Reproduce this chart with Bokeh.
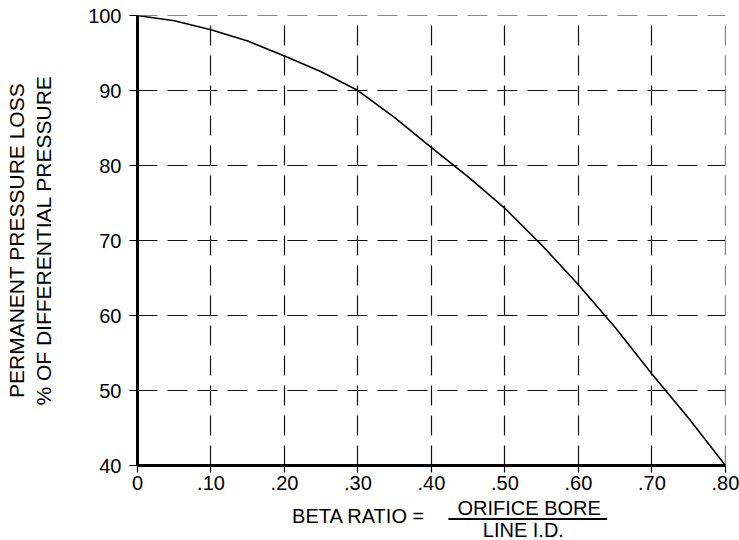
from bokeh.plotting import figure
from bokeh.layouts import column
from bokeh.models import Range1d, FixedTicker, CustomJSTickFormatter, Label, Arrow
from bokeh.embed import file_html
from bokeh.resources import INLINE

# Data
beta = [0.00, 0.05, 0.10, 0.15, 0.20, 0.25, 0.30, 0.35, 0.40,
        0.45, 0.50, 0.55, 0.60, 0.65, 0.70, 0.75, 0.80]
loss = [100.0, 99.3, 98.1, 96.6, 94.6, 92.5, 90.0, 86.4, 82.4,
        78.5, 74.3, 69.4, 64.1, 58.4, 52.2, 46.3, 40.0]
x_ticks = [0.0, 0.1, 0.2, 0.3, 0.4, 0.5, 0.6, 0.7, 0.8]
y_ticks = [40, 50, 60, 70, 80, 90, 100]

FONT = "Liberation Sans"

x_range = Range1d(0, 0.8001)
p = figure(width=739, height=497, output_backend="svg", toolbar_location=None,
           x_range=x_range, y_range=Range1d(40, 100.01),
           min_border_left=137, min_border_right=14, min_border_top=15,
           min_border_bottom=32)
p.outline_line_color = None
p.background_fill_color = "white"
p.border_fill_color = "white"

# grid
for g in (p.xgrid, p.ygrid):
    g.grid_line_color = "#111111"
    g.grid_line_dash = "20 10"
    g.grid_line_width = 1.2
p.xgrid.ticker = FixedTicker(ticks=x_ticks)
p.ygrid.ticker = FixedTicker(ticks=y_ticks)

# axes
p.xaxis.ticker = FixedTicker(ticks=x_ticks)
p.yaxis.ticker = FixedTicker(ticks=y_ticks)
p.xaxis.formatter = CustomJSTickFormatter(
    code="return tick == 0 ? '0' : tick.toFixed(2).replace(/^0/, '');")
p.xaxis.bounds = (0, 0.8)
p.yaxis.bounds = (40, 100)
for ax in (p.xaxis, p.yaxis):
    ax.axis_line_width = 3
    ax.axis_line_color = "black"
    ax.major_tick_line_color = "black"
    ax.major_tick_line_width = 1.2
    ax.major_tick_in = 0
    ax.minor_tick_line_color = None
    ax.major_label_text_font = FONT
    ax.major_label_text_font_size = "20px"
    ax.major_label_text_color = "black"
p.yaxis.major_tick_out = 8
p.xaxis.major_tick_out = 7
p.yaxis.major_label_standoff = 8
p.xaxis.major_label_standoff = 3

p.yaxis.axis_label = "PERMANENT PRESSURE LOSS\n% OF DIFFERENTIAL PRESSURE"
p.yaxis.axis_label_text_font = FONT
p.yaxis.axis_label_text_font_size = "21px"
p.yaxis.axis_label_text_font_style = "normal"
p.yaxis.axis_label_text_color = "black"
p.yaxis.axis_label_standoff = 30

# curve
p.line(beta, loss, line_color="black", line_width=1.6)

# x-axis title panel (fraction), sharing the x scale; y in page pixels
q = figure(width=739, height=43, output_backend="svg", toolbar_location=None,
           x_range=x_range, y_range=Range1d(540, 497),
           min_border_left=137, min_border_right=14, min_border_top=0,
           min_border_bottom=0, x_axis_type=None, y_axis_type=None)
q.outline_line_color = None
q.grid.visible = False
q.background_fill_color = "white"
q.border_fill_color = "white"

common = dict(text_font=FONT, text_font_size="20px", text_align="center",
              text_baseline="alphabetic", text_color="black")
q.add_layout(Label(x=0.301, y=515, text="BETA RATIO =", **common))
q.add_layout(Label(x=0.533, y=507, text="ORIFICE BORE", **common))
q.add_layout(Label(x=0.525, y=529, text="LINE I.D.", **common))
q.add_layout(Arrow(x_start=0.423, y_start=518.5, x_end=0.639, y_end=518.5,
                   start=None, end=None, line_color="black", line_width=1.8))

layout = column(p, q, spacing=0)
open("out.html", "w").write(file_html(layout, INLINE))
